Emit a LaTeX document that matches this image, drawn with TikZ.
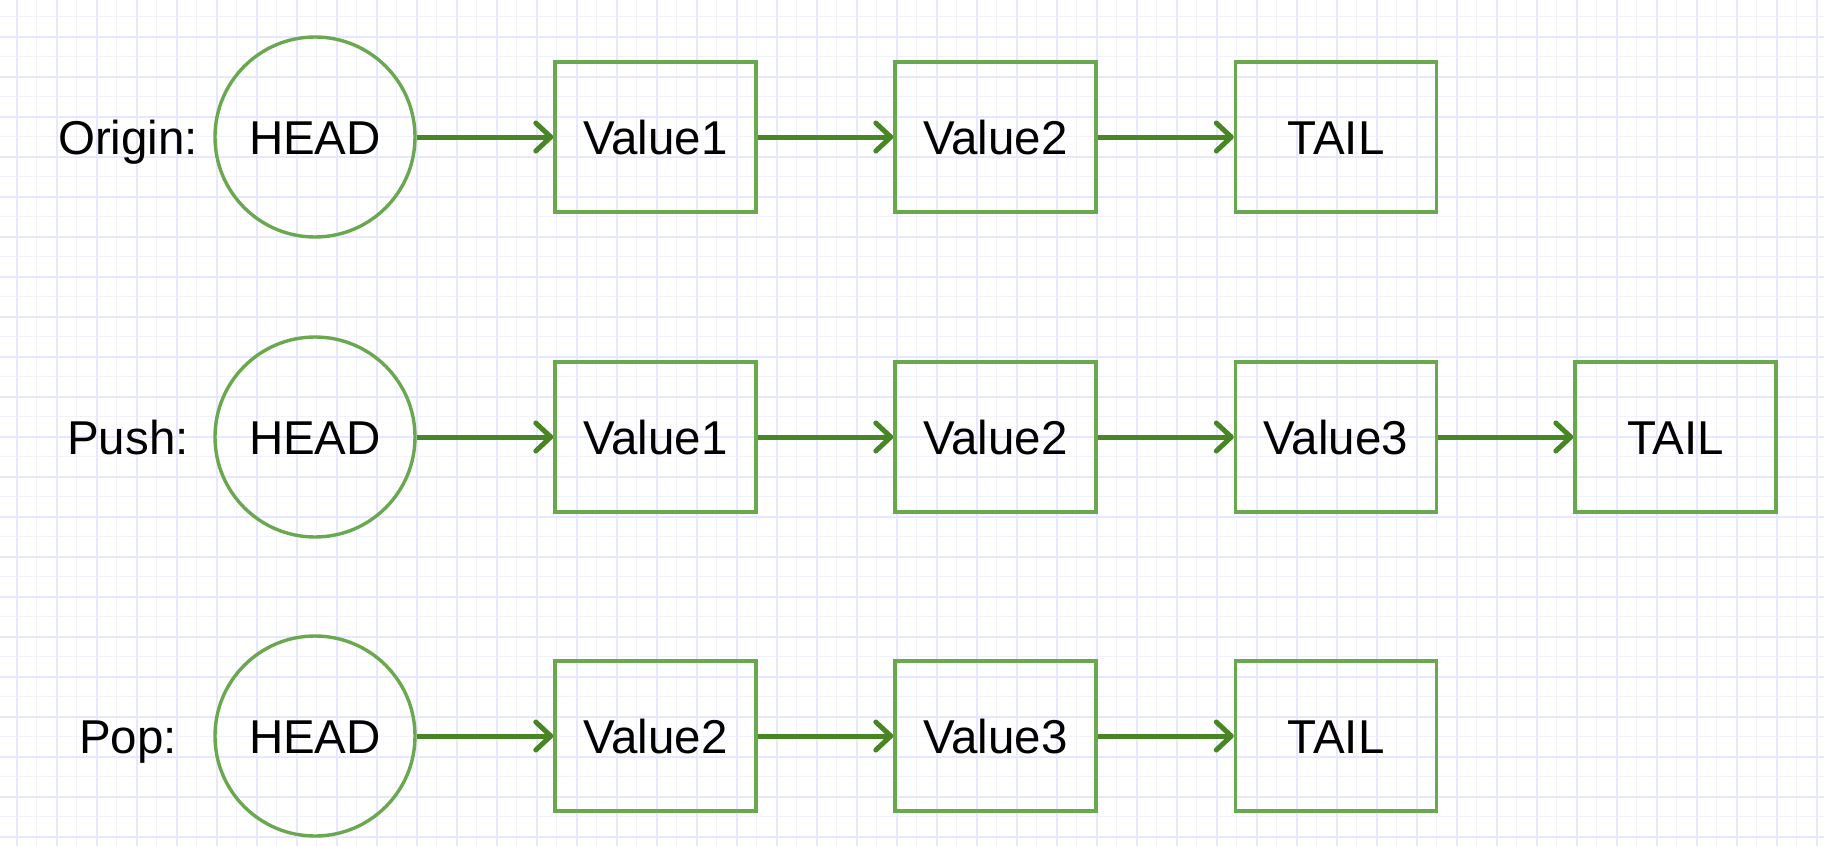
\documentclass[tikz,border=0pt]{standalone}
\usepackage{fontspec}
\setmainfont{Liberation Sans}
\usetikzlibrary{arrows.meta}
\definecolor{boxgreen}{RGB}{106,168,79}
\definecolor{arrgreen}{RGB}{72,133,36}
\definecolor{gridminor}{RGB}{242,242,255}
\definecolor{gridmajor}{RGB}{231,231,255}
\begin{document}
\begin{tikzpicture}[x=1pt,y=-1pt,
  txt/.style={font=\fontsize{47.5}{50}\selectfont, text height=34pt, text depth=0pt, inner sep=0pt},
  headnode/.style={txt, circle, draw=boxgreen, line width=3.4pt, minimum size=200pt},
  valbox/.style={txt, rectangle, draw=boxgreen, line width=3.4pt, minimum width=201pt, minimum height=150pt},
  rowlabel/.style={txt},
  link/.style={draw=arrgreen, line width=5pt, -{Straight Barb[length=15pt,width=28pt,round]}},
  gminor/.style={draw=gridminor, line width=1.5pt},
  gmajor/.style={draw=gridmajor, line width=1.8pt}
]
\useasboundingbox (0,0) rectangle (1824,846);
\fill[white] (0,0) rectangle (1824,846);
% grid
\foreach \x in {36.7,76.7,...,1824} \draw[gminor] (\x,0) -- (\x,846);
\foreach \y in {16.7,56.7,...,846} \draw[gminor] (0,\y) -- (1824,\y);
\foreach \x in {16.7,56.7,...,1824} \draw[gmajor] (\x,0) -- (\x,846);
\foreach \y in {36.7,76.7,...,846} \draw[gmajor] (0,\y) -- (1824,\y);

% Row 1: Origin
\node[rowlabel] (l1) at (128,137) {Origin:};
\node[headnode] (h1) at (315,137) {HEAD};
\node[valbox] (a1) at (655.5,137) {Value1};
\node[valbox] (b1) at (995.5,137) {Value2};
\node[valbox] (t1) at (1336,137) {TAIL};
\draw[link] (h1) -- (a1);
\draw[link] (a1) -- (b1);
\draw[link] (b1) -- (t1);

% Row 2: Push
\node[rowlabel] (l2) at (128,437) {Push:};
\node[headnode] (h2) at (315,437) {HEAD};
\node[valbox] (a2) at (655.5,437) {Value1};
\node[valbox] (b2) at (995.5,437) {Value2};
\node[valbox] (c2) at (1336,437) {Value3};
\node[valbox] (t2) at (1675.5,437) {TAIL};
\draw[link] (h2) -- (a2);
\draw[link] (a2) -- (b2);
\draw[link] (b2) -- (c2);
\draw[link] (c2) -- (t2);

% Row 3: Pop
\node[rowlabel] (l3) at (128,736) {Pop:};
\node[headnode] (h3) at (315,736) {HEAD};
\node[valbox] (a3) at (655.5,736) {Value2};
\node[valbox] (b3) at (995.5,736) {Value3};
\node[valbox] (t3) at (1336,736) {TAIL};
\draw[link] (h3) -- (a3);
\draw[link] (a3) -- (b3);
\draw[link] (b3) -- (t3);
\end{tikzpicture}
\end{document}
